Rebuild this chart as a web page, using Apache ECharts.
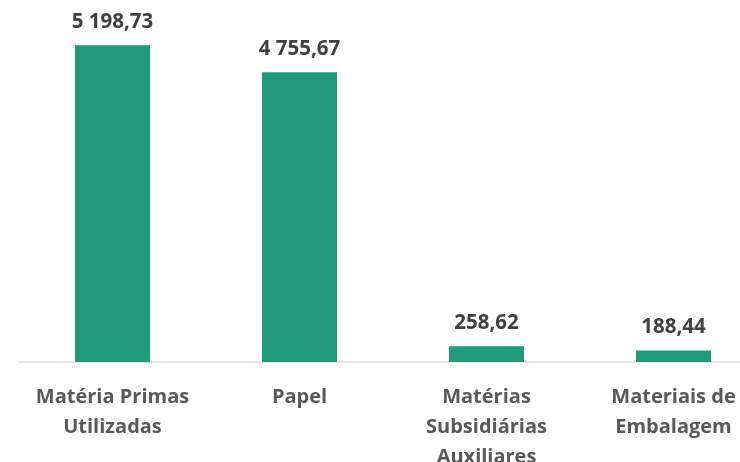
<!DOCTYPE html>
<html>
<head>
<meta charset="utf-8">
<script src="https://cdn.jsdelivr.net/npm/echarts@6/dist/echarts.min.js"></script>
<style>
  html, body { margin: 0; padding: 0; background: #fff; }
  #chart { width: 740px; height: 462px; }
</style>
</head>
<body>
<div id="chart"></div>
<script>
// categorias (quebras de linha como no original)
const categories = ['Matéria Primas\nUtilizadas', 'Papel', 'Matérias\nSubsidiárias\nAuxiliares', 'Materiais de\nEmbalagem'];
const values = [5198.73, 4755.67, 258.62, 188.44];

// 5 198,73
function fmt(v) {
  const parts = v.toFixed(2).split('.');
  return parts[0].replace(/\B(?=(\d{3})+(?!\d))/g, ' ') + ',' + parts[1];
}

const chart = echarts.init(document.getElementById('chart'));
chart.setOption({
  animation: false,
  grid: { left: 19, top: 33, bottom: 100, right: -27, containLabel: false, outerBoundsMode: 'none' },
  xAxis: {
    type: 'category',
    data: categories,
    axisLine: { lineStyle: { color: '#d9d9d9', width: 1.5 } },
    axisTick: { show: false },
    axisLabel: {
      interval: 0,
      margin: 20,
      color: '#595959',
      fontFamily: 'Open Sans',
      fontWeight: 'bold',
      fontSize: 20,
      lineHeight: 30
    }
  },
  yAxis: {
    type: 'value',
    min: 0,
    max: 5400,
    show: false,
    splitLine: { show: false }
  },
  series: [{
    type: 'bar',
    data: values,
    barWidth: 75,
    itemStyle: { color: '#1f9b7a' },
    label: {
      show: true,
      position: 'top',
      distance: 13,
      color: '#404040',
      fontFamily: 'Open Sans',
      fontWeight: 'bold',
      fontSize: 20.5,
      formatter: p => fmt(p.value)
    }
  }]
});
</script>
</body>
</html>
